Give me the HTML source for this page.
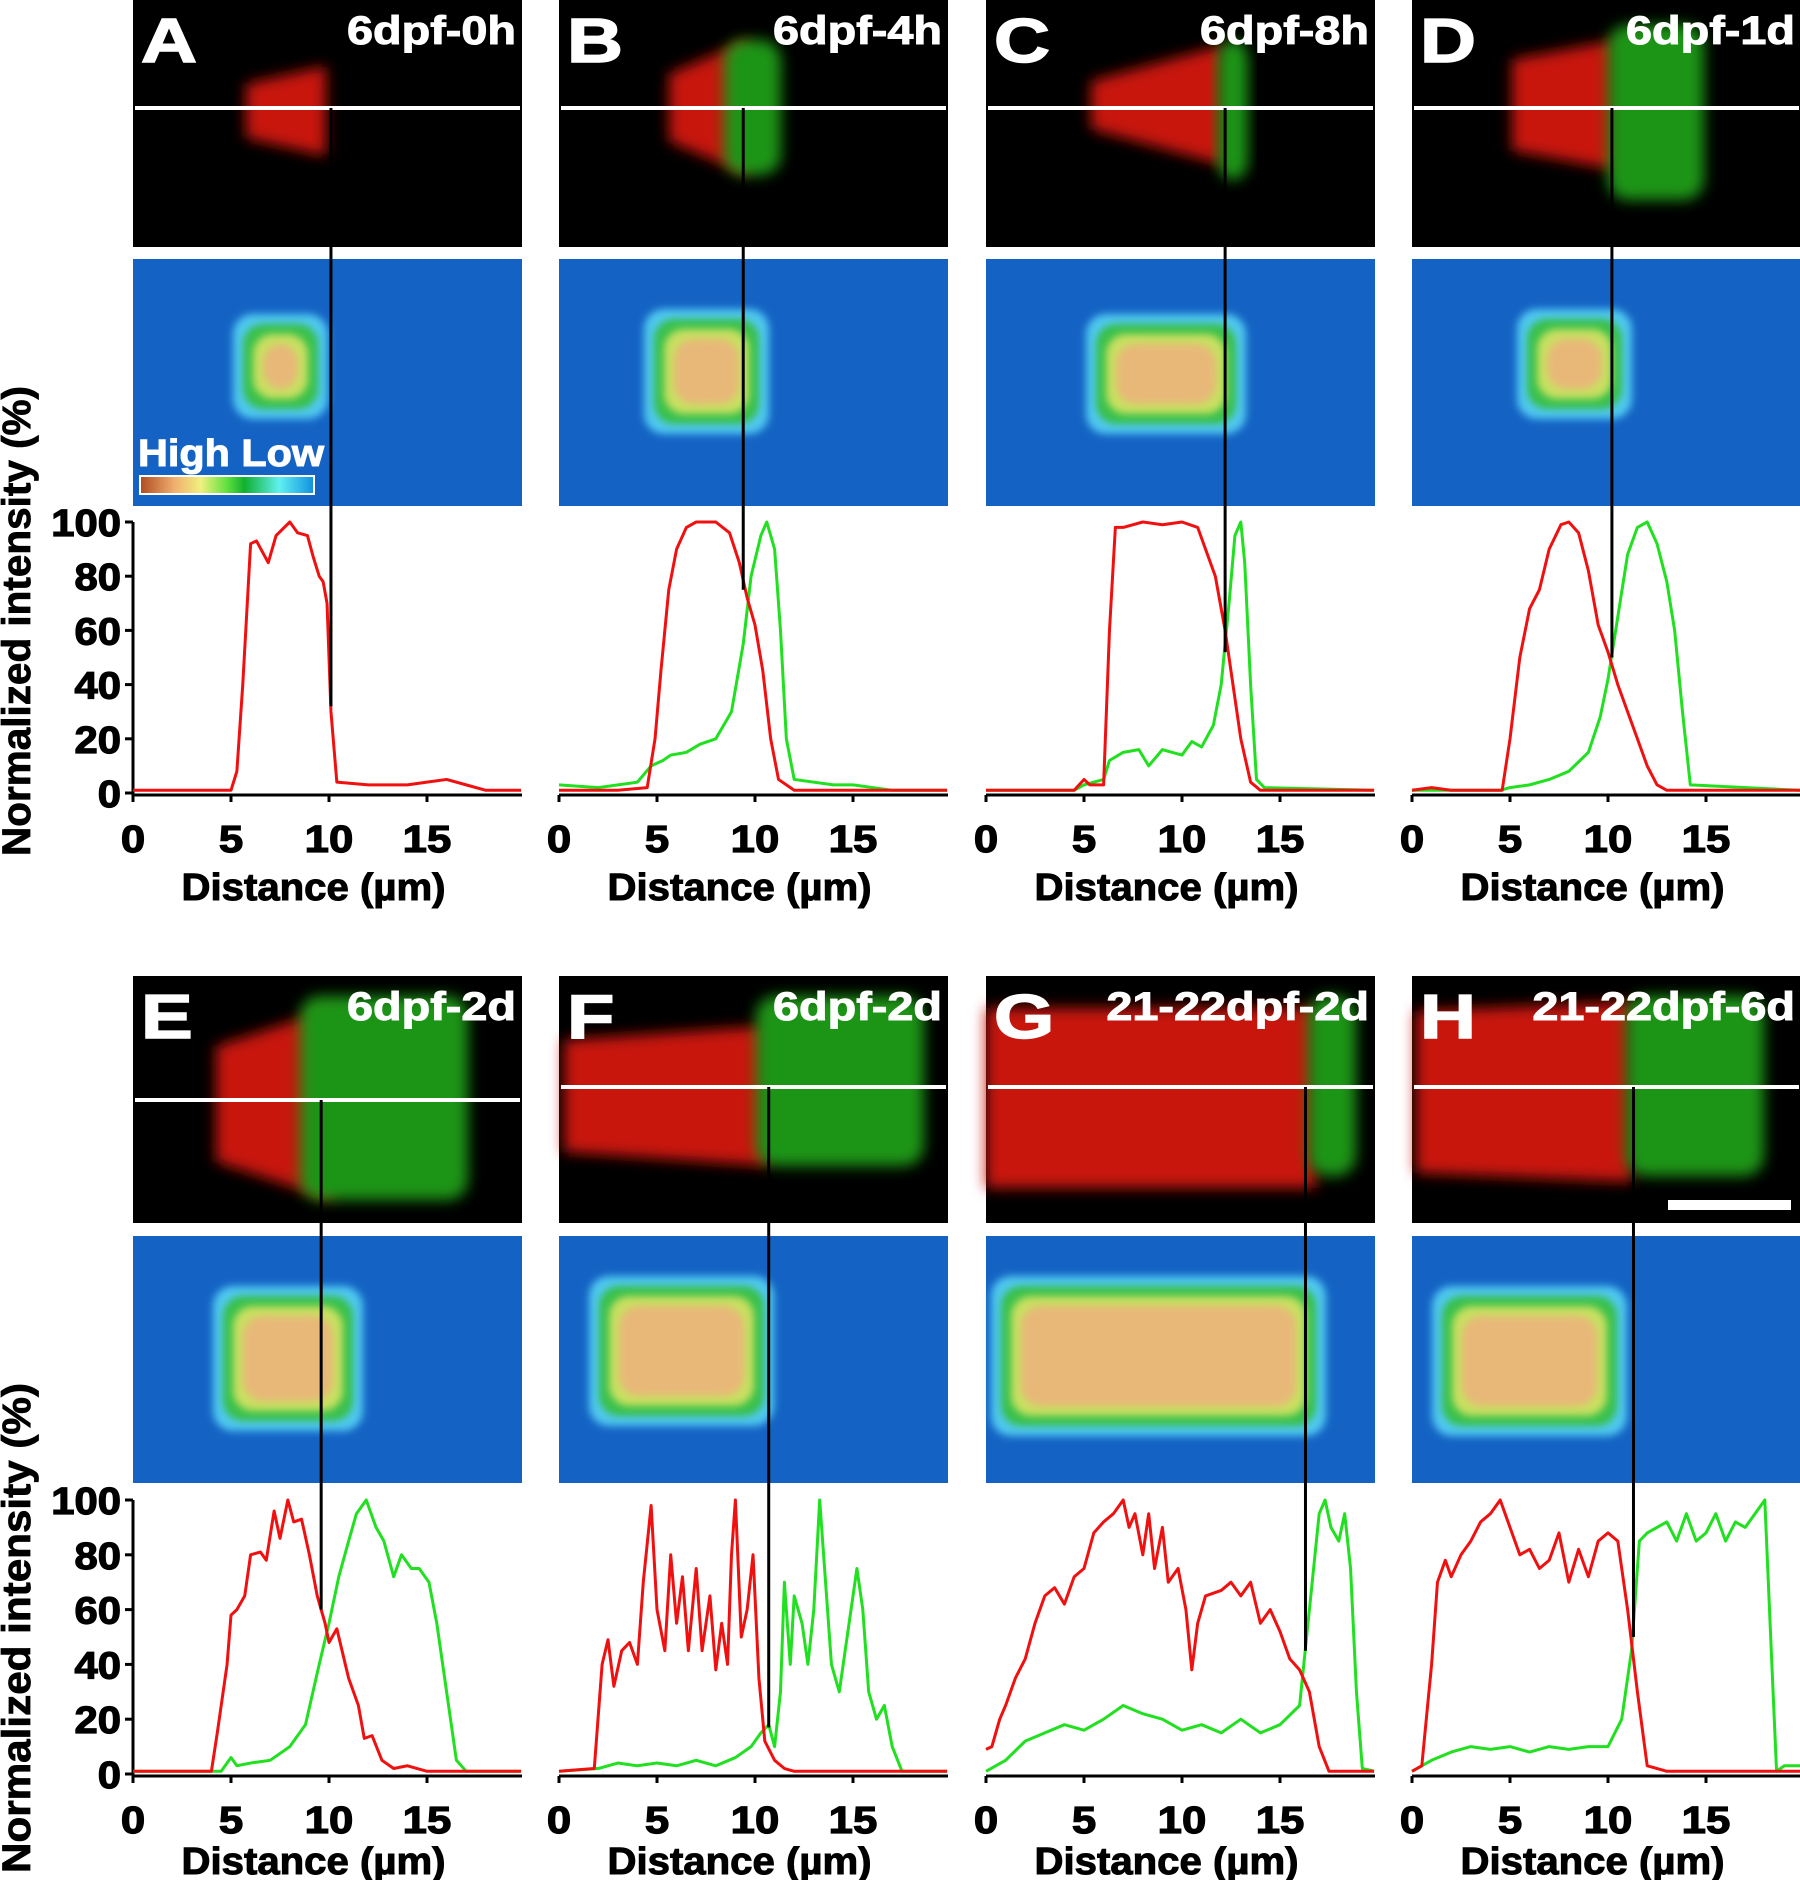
<!DOCTYPE html>
<html><head><meta charset="utf-8"><style>
html,body{margin:0;padding:0;background:#fff}
svg{display:block}
text{font-family:"Liberation Sans",Arial,sans-serif;font-weight:bold}
</style></head><body>
<svg id="fig" width="1800" height="1880" viewBox="0 0 1800 1880" xmlns="http://www.w3.org/2000/svg">
<defs>
<filter id="b8" x="-30%" y="-30%" width="160%" height="160%"><feGaussianBlur stdDeviation="7"/></filter>
<filter id="b3" x="-30%" y="-30%" width="160%" height="160%"><feGaussianBlur stdDeviation="4"/></filter>
<linearGradient id="cbar" x1="0" x2="1" y1="0" y2="0">
<stop offset="0" stop-color="#b04a20"/><stop offset="0.2" stop-color="#f0b070"/><stop offset="0.35" stop-color="#f0f080"/><stop offset="0.5" stop-color="#60e040"/><stop offset="0.6" stop-color="#10b030"/><stop offset="0.8" stop-color="#60f0f0"/><stop offset="1" stop-color="#1090e0"/></linearGradient>
</defs>
<g id="imgs"></g>
<g id="charts"></g>
<text class="wide" transform="translate(30,621) rotate(-90)" text-anchor="middle" font-size="40" stroke="#000" stroke-width="0.8" textLength="470" lengthAdjust="spacingAndGlyphs">Normalized intensity (%)</text>
<text class="wide" transform="translate(30,1628) rotate(-90)" text-anchor="middle" font-size="40" stroke="#000" stroke-width="0.8" textLength="490" lengthAdjust="spacingAndGlyphs">Normalized intensity (%)</text>
</svg>
<script>
// ---- chart data (x in µm, y in % ) ----
const xTicks=[0,5,10,15];
const yTicks=[0,20,40,60,80,100];
const panelLetters=["A","B","C","D","E","F","G","H"];
const panelTitles=["6dpf-0h","6dpf-4h","6dpf-8h","6dpf-1d","6dpf-2d","6dpf-2d","21-22dpf-2d","21-22dpf-6d"];
const cutPos=[10.1,9.4,12.2,10.2,9.6,10.7,16.3,11.3];
const cutVal=[32,75,52,50,60,17,45,50];
const redA=[[0,1],[2,1],[4,1],[5,1],[5.3,8],[5.6,40],[6,92],[6.3,93],[6.9,85],[7.3,95],[8,100],[8.4,96],[8.9,95],[9.2,87],[9.5,80],[9.7,78],[9.9,70],[10.1,30],[10.4,4],[12,3],[14,3],[15,4],[16,5],[17,3],[18,1],[19.8,1]];
const redB=[[0,1],[3,1],[4.5,2],[4.9,20],[5.2,45],[5.6,75],[6,90],[6.5,98],[7,100],[8,100],[8.7,96],[9.2,85],[9.6,72],[10,62],[10.4,45],[10.8,20],[11.2,5],[12,1],[19.8,1]];
const greenB=[[0,3],[2,2],[4,4],[4.7,10],[5.3,12],[5.7,14],[6.5,15],[7.2,18],[8,20],[8.8,30],[9.4,55],[9.8,80],[10.3,95],[10.6,100],[11,90],[11.3,60],[11.6,20],[12,5],[14,3],[15,3],[17,1],[19.8,1]];
const redC=[[0,1],[4.5,1],[5,5],[5.3,3],[6,3],[6.3,60],[6.6,98],[7,98],[8,100],[9,99],[10,100],[10.8,98],[11.2,90],[11.7,80],[12.2,60],[12.6,40],[13,20],[13.5,4],[14,1],[19.8,1]];
const greenC=[[0,1],[4.5,1],[5,3],[6,5],[6.3,12],[7,15],[7.8,16],[8.3,10],[9,16],[10,14],[10.5,19],[11,17],[11.6,25],[12,40],[12.4,70],[12.7,95],[13,100],[13.2,85],[13.5,40],[13.8,5],[14.2,2],[19.8,1]];
const redD=[[0,1],[1,2],[2,1],[4.6,1],[5,20],[5.5,50],[6,68],[6.5,75],[7,90],[7.6,99],[8,100],[8.5,96],[9,82],[9.5,62],[10,52],[10.5,40],[11,30],[11.5,20],[12,10],[12.5,3],[13,1],[19.8,1]];
const greenD=[[0,1],[4.5,1],[5,2],[6,3],[7,5],[8,8],[9,15],[9.6,28],[10,42],[10.5,65],[11,88],[11.5,98],[12,100],[12.5,92],[13,78],[13.4,60],[13.8,30],[14.2,3],[19.8,1]];
const redE=[[0,1],[4,1],[4.3,15],[4.8,40],[5,58],[5.3,60],[5.7,65],[6,80],[6.5,81],[6.8,78],[7.2,96],[7.5,86],[7.9,100],[8.2,92],[8.6,93],[9,80],[9.4,65],[9.8,55],[10,48],[10.4,53],[11,35],[11.5,25],[11.8,13],[12.2,14],[12.7,5],[13.3,2],[14,3],[15,1],[19.8,1]];
const greenE=[[0,1],[4.5,1],[5,6],[5.3,3],[6,4],[7,5],[8,10],[8.8,18],[9.5,40],[10,55],[10.5,72],[11,85],[11.4,95],[11.9,100],[12.4,90],[12.8,85],[13.3,72],[13.7,80],[14.2,75],[14.6,75],[15.1,70],[15.5,55],[16,30],[16.5,5],[17,1],[19.8,1]];
const redF=[[0,1],[1.8,2],[2.2,40],[2.5,49],[2.8,32],[3.2,45],[3.6,48],[4,40],[4.3,70],[4.7,98],[5,60],[5.4,45],[5.7,80],[6,55],[6.3,72],[6.6,45],[7,75],[7.3,45],[7.7,65],[8,38],[8.3,55],[8.6,40],[8.8,80],[9,100],[9.3,50],[9.6,60],[9.9,80],[10.2,35],[10.5,12],[11,5],[11.5,2],[12,1],[19.8,1]];
const greenF=[[0,1],[2,2],[3,4],[4,3],[5,4],[6,3],[7,5],[8,3],[9,6],[9.8,10],[10.3,15],[10.7,18],[11,10],[11.3,30],[11.5,70],[11.8,40],[12,65],[12.4,55],[12.7,40],[13,60],[13.3,100],[13.6,70],[13.9,40],[14.3,30],[14.7,50],[15.2,75],[15.5,60],[15.8,30],[16.2,20],[16.6,25],[17,10],[17.5,1],[19.8,1]];
const redG=[[0,9],[0.3,10],[0.7,20],[1,25],[1.5,35],[2,42],[2.5,55],[3,65],[3.5,68],[4,62],[4.5,72],[5,75],[5.5,88],[6,92],[6.5,95],[7,100],[7.3,90],[7.6,95],[8,80],[8.3,95],[8.6,75],[9,90],[9.3,70],[9.8,75],[10.2,60],[10.5,38],[10.8,55],[11.2,65],[12,67],[12.5,70],[13,65],[13.5,70],[14,55],[14.5,60],[15,52],[15.5,42],[16,38],[16.5,30],[17,10],[17.5,1],[19.8,1]];
const greenG=[[0,1],[1,5],[2,12],[3,15],[4,18],[5,16],[6,20],[7,25],[8,22],[9,20],[10,16],[11,18],[12,15],[13,20],[14,15],[15,18],[16,25],[16.5,60],[17,95],[17.3,100],[17.6,90],[18,85],[18.3,95],[18.6,75],[18.9,30],[19.2,2],[19.8,1]];
const redH=[[0,1],[0.5,3],[1,40],[1.3,70],[1.7,78],[2,72],[2.5,80],[3,85],[3.5,92],[4,95],[4.5,100],[5,90],[5.5,80],[6,82],[6.5,75],[7,78],[7.5,88],[8,70],[8.5,82],[9,72],[9.5,85],[10,88],[10.5,85],[11,60],[11.5,30],[12,3],[13,1],[19.8,1]];
const greenH=[[0,1],[1,5],[2,8],[3,10],[4,9],[5,10],[6,8],[7,10],[8,9],[9,10],[10,10],[10.7,20],[11.2,45],[11.6,85],[12,88],[12.5,90],[13,92],[13.5,85],[14,95],[14.5,85],[15,88],[15.5,95],[16,85],[16.5,92],[17,90],[17.5,95],[18,100],[18.3,50],[18.6,1],[19,3],[19.8,3]];
const redSeries=[redA,redB,redC,redD,redE,redF,redG,redH];
const greenSeries=[null,greenB,greenC,greenD,greenE,greenF,greenG,greenH];

const NS="http://www.w3.org/2000/svg";
const colLeft=[133,559,986,1412], W=389, PXU=19.6;
const rows=[{img:0,heat:259,top:522,bot:793,tick:852,lab:900,wl:108},{img:976,heat:1236,top:1500,bot:1774,tick:1833,lab:1874,wl:1087}];
function mk(tag,attrs,parent){const e=document.createElementNS(NS,tag);for(const k in attrs)e.setAttribute(k,attrs[k]);parent.appendChild(e);return e;}
function widen(t,f){const L=t.getComputedTextLength();t.setAttribute('textLength',L*f);t.setAttribute('lengthAdjust','spacingAndGlyphs');}
const imgs=document.getElementById('imgs'), charts=document.getElementById('charts');

// decorative image blobs (local coords): red, green, taper, heat extent
const blobs=[
 {r:[113,193,66,156],g:null,t:0.4,h:[100,195,55,160]},
 {r:[110,190,40,175],g:[165,222,40,175],t:0.5,h:[85,210,50,175]},
 {r:[105,238,45,165],g:[232,262,40,180],t:0.6,h:[100,260,55,175]},
 {r:[100,205,40,170],g:[196,292,25,200],t:0.3,h:[105,220,50,160]},
 {r:[83,200,32,224],g:[167,335,20,224],t:0.4,h:[80,230,50,195]},
 {r:[5,209,50,190],g:[197,365,20,190],t:0.2,h:[30,215,40,190]},
 {r:[0,330,32,212],g:[322,370,20,200],t:0,h:[5,340,40,200]},
 {r:[4,220,26,206],g:[214,352,20,200],t:0.1,h:[20,215,50,200]}
];
for(let p=0;p<8;p++){
 const r=rows[p<4?0:1], x0=colLeft[p%4], b=blobs[p];
 const gi=mk('g',{},imgs);
 
 
 const im=mk('rect',{x:x0,y:r.img,width:W,height:247,fill:'#000'},gi);
 
 
 const tp=b.t*(b.r[3]-b.r[2]);
 mk('path',{d:`M${x0+b.r[0]} ${r.img+b.r[2]+tp/2} L${x0+b.r[1]} ${r.img+b.r[2]} L${x0+b.r[1]} ${r.img+b.r[3]} L${x0+b.r[0]} ${r.img+b.r[3]-tp/2}Z`,fill:'#c81410',filter:'url(#b8)'},gi);
 if(b.g) mk('rect',{x:x0+b.g[0],y:r.img+b.g[2],width:b.g[1]-b.g[0],height:b.g[3]-b.g[2],rx:20,fill:'#1c9418',filter:'url(#b8)'},gi);
 const hm=mk('rect',{x:x0,y:r.heat,width:W,height:247,fill:'#1463c4'},gi);
 
 
 const cols=['#50c8f0','#38c048','#c8e060','#e8b878'];
 const h=b.h, hy0=r.heat+h[2], hy1=r.heat+h[3];
 for(let k=0;k<4;k++){
  const ins=k*10;
  if(h[1]-h[0]-2*ins<10||hy1-hy0-2*ins<8) break;
  mk('rect',{x:x0+h[0]+ins,y:hy0+ins,width:h[1]-h[0]-2*ins,height:hy1-hy0-2*ins,rx:20,fill:cols[k],filter:'url(#b3)'},gi);
 }
 const wy=(p==4)?1100:r.wl;
 const wl=mk('line',{x1:x0+2,x2:x0+W-2,y1:wy,y2:wy,stroke:'#fff','stroke-width':4},gi);
 
 
 const lt=mk('text',{x:x0+8,y:r.img+62,fill:'#fff','font-size':62,stroke:'#fff','stroke-width':1.5},gi); lt.textContent=panelLetters[p];
 
 
 widen(lt,1.25);
 const tt=mk('text',{x:x0+W-6,y:r.img+44,fill:'#fff','font-size':40,'text-anchor':'end',stroke:'#fff','stroke-width':1},gi); tt.textContent=panelTitles[p];
 
 
 widen(tt,1.17);
}
{const g=mk('g',{},imgs);
 
 
 const t=mk('text',{x:138,y:466,fill:'#fff','font-size':38,stroke:'#fff','stroke-width':1},g); t.textContent='High  Low';
 t.setAttribute('textLength','186');t.setAttribute('lengthAdjust','spacingAndGlyphs');
 mk('rect',{x:140,y:476,width:174,height:18,fill:'url(#cbar)',stroke:'#fff','stroke-width':2},g);}
{const s=mk('rect',{x:1668,y:1200,width:123,height:10,fill:'#fff'},imgs);
 
 }

for(let p=0;p<8;p++){
 const r=rows[p<4?0:1], x0=colLeft[p%4];
 const sx=v=>x0+v*PXU, sy=v=>r.bot-(v/100)*(r.bot-r.top);
 const g=mk('g',{},charts);
 
 
 const ax=mk('line',{x1:x0,x2:x0+W,y1:r.bot+2,y2:r.bot+2,stroke:'#000','stroke-width':3},g);
 
 
 xTicks.forEach(v=>{
  mk('line',{x1:sx(v),x2:sx(v),y1:r.bot+2,y2:r.bot+9,stroke:'#000','stroke-width':3},g);
  const t=mk('text',{x:sx(v),y:r.tick,'font-size':38,'text-anchor':'middle',stroke:'#000','stroke-width':1.2},g); t.textContent=v;
  
  
  widen(t,1.15);
 });
 if(p%4==0){
  const ay=mk('line',{x1:x0,x2:x0,y1:r.top,y2:r.bot+2,stroke:'#000','stroke-width':3},g);
  
  
  yTicks.forEach(v=>{
   mk('line',{x1:x0-8,x2:x0,y1:sy(v),y2:sy(v),stroke:'#000','stroke-width':3},g);
   const t=mk('text',{x:x0-12,y:sy(v)+14,'font-size':38,'text-anchor':'end',stroke:'#000','stroke-width':1.2},g); t.textContent=v;
   
   
   widen(t,1.1);
  });
 }
 const xl=mk('text',{x:x0+W/2-14,y:r.lab,'font-size':38,'text-anchor':'middle',stroke:'#000','stroke-width':1},g); xl.textContent='Distance (µm)';
 
 
 xl.setAttribute('textLength','264');xl.setAttribute('lengthAdjust','spacingAndGlyphs');
 const line=(data,col,name)=>{const pl=mk('polyline',{points:data.map(d=>sx(d[0])+','+sy(d[1])).join(' '),fill:'none',stroke:col,'stroke-width':3,'stroke-linejoin':'round'},g);
  
  };
 if(greenSeries[p]) line(greenSeries[p],'#20e020','green-profile-line');
 line(redSeries[p],'#f01010','red-profile-line');
 const wy=(p==4)?1100:r.wl;
 const cl=mk('line',{x1:sx(cutPos[p]),x2:sx(cutPos[p]),y1:wy,y2:sy(cutVal[p]),stroke:'#000','stroke-width':3},g);
 
 
}
</script>
</body></html>
